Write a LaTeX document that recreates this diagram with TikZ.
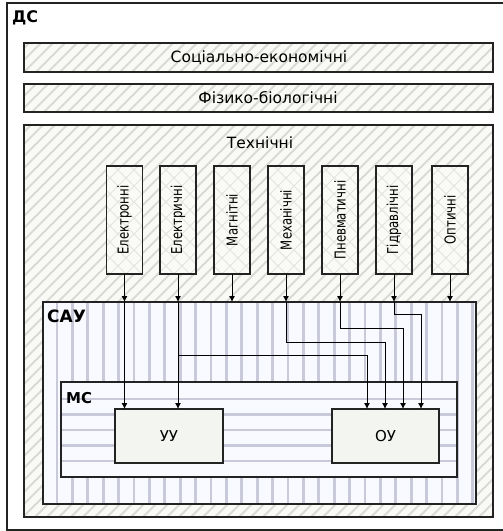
\documentclass[tikz,border=0pt]{standalone}
\usepackage{fontspec}
\setmainfont{DejaVu Sans}
\newfontfamily\vfont{DejaVu Sans}[FakeStretch=0.78]
\usetikzlibrary{arrows.meta}
\definecolor{hatchbg}{RGB}{249,249,245}
\definecolor{hatchln}{RGB}{218,218,214}
\definecolor{crossbg}{RGB}{250,250,247}
\definecolor{crossln}{RGB}{226,226,222}
\definecolor{sauBg}{RGB}{248,250,255}
\definecolor{stripe}{RGB}{200,202,218}
\definecolor{ctrl}{RGB}{243,245,240}
\definecolor{edge}{RGB}{35,35,35}
\tikzset{
  frame/.style={draw=edge, line width=1.3pt},
  box/.style={inner sep=0pt, outer sep=0pt},
  tbox/.style={box, minimum width=36pt, minimum height=108pt, fill=crossbg},
  hatch/.style={draw=hatchln, line width=2pt},
  cross/.style={draw=crossln, line width=1pt},
  vstripe/.style={draw=stripe, line width=2.8pt},
  htext/.style={font=\fontsize{15.5}{15.5}\selectfont, inner sep=0pt},
  vtext/.style={font=\vfont\fontsize{15}{15}\selectfont, rotate=90, inner sep=0pt},
  blabel/.style={font=\bfseries\fontsize{16}{16}\selectfont, inner sep=0pt, anchor=base west},
  arr/.style={-{Latex[length=6pt,width=6pt]}, line width=0.9pt, black},
  conn/.style={line width=0.9pt, black}
}
\newcommand\diaghatch[1]{%
  \begin{scope}
    \clip (#1.south west) rectangle (#1.north east);
    \foreach \i in {-600,-588,...,600} \draw[hatch] (\i,600) -- ++(640,-640);
  \end{scope}}
\newcommand\crosshatch[1]{%
  \begin{scope}
    \clip (#1.south west) rectangle (#1.north east);
    \foreach \i in {-600,-584,...,600} {\draw[cross] (\i,600) -- ++(640,-640);
      \draw[cross] (\i,-20) -- ++(640,640);}
  \end{scope}}
\newcommand\frameit[1]{\draw[frame] (#1.south west) rectangle (#1.north east);}
\begin{document}
\begin{tikzpicture}[x=1pt,y=-1pt]
\useasboundingbox (0,0) rectangle (503,531);
\fill[white] (0,0) rectangle (503,531);
% outer
\node[box, minimum width=503pt, minimum height=527pt] (ds) at (258.5,266.5) {};
\frameit{ds}
\node[blabel] (dsl) at (12,22) {ДС};
% three hatched boxes
\node[box, fill=hatchbg, minimum width=469pt, minimum height=29pt] (soc) at (258.5,57.5) {};
\node[box, fill=hatchbg, minimum width=469pt, minimum height=28pt] (fiz) at (258.5,98) {};
\node[box, fill=hatchbg, minimum width=469pt, minimum height=392pt] (tech) at (258.5,321) {};
\diaghatch{soc}\diaghatch{fiz}\diaghatch{tech}
\frameit{soc}\frameit{fiz}\frameit{tech}
\node[htext] (socl) at (259,57.5) {Соціально-економічні};
\node[htext] (fizl) at (268,98) {Фізико-біологічні};
\node[htext] (techl) at (260,143) {Технічні};
% vertical boxes
\foreach \n/\x in {e1/124.5,e2/178,e3/232,e4/286,e5/340,e6/394,e7/450}{
  \node[tbox] (\n) at (\x,220) {};
  \crosshatch{\n}
  \frameit{\n}
}
\node[vtext] at (e1) {Електронні};
\node[vtext] at (e2) {Електричні};
\node[vtext] at (e3) {Магнітні};
\node[vtext] at (e4) {Механічні};
\node[vtext] at (e5) {Пневматичні};
\node[vtext] at (e6) {Гідравлічні};
\node[vtext] at (e7) {Оптичні};
% SAU
\node[box, fill=sauBg, minimum width=433pt, minimum height=202pt] (sau) at (259.5,403) {};
\begin{scope}
  \clip (sau.south west) rectangle (sau.north east);
  \foreach \x in {57,72.4,...,476} \draw[vstripe] (\x,300) -- (\x,506);
\end{scope}
\frameit{sau}
\node[blabel, font=\bfseries\fontsize{17}{17}\selectfont] (saul) at (47,322) {САУ};
% MS
\node[box, fill=sauBg, minimum width=396pt, minimum height=95pt] (ms) at (259,429.5) {};
\begin{scope}
  \clip (ms.south west) rectangle (ms.north east);
  \foreach \y in {399,414.5,...,470} \draw[vstripe] (60,\y) -- (458,\y);
\end{scope}
\frameit{ms}
\node[blabel, font=\bfseries\fontsize{15}{15}\selectfont] (msl) at (66,403) {МС};
% UU, OU
\node[box, fill=ctrl, draw=edge, line width=1.3pt, minimum width=108pt, minimum height=54pt,
  font=\fontsize{15}{15}\selectfont] (uu) at (169,436) {УУ};
\node[box, fill=ctrl, draw=edge, line width=1.3pt, minimum width=107pt, minimum height=54pt,
  font=\fontsize{15}{15}\selectfont] (ou) at (385.5,436) {ОУ};
% connectors
\foreach \n in {e1,e2,e3,e4,e5,e6,e7}{
  \coordinate (s\n) at (\n.south |- sau.north);
  \draw[arr] (\n.south) -- (s\n);
}
\coordinate (ou1) at (367,409);
\coordinate (ou2) at (385,409);
\coordinate (ou3) at (403,409);
\coordinate (ou4) at (421,409);
\coordinate (j2) at (178,355);
\coordinate (k4) at (385,342);
\coordinate (k5) at (403,328);
\coordinate (k6) at (421,314);
\draw[arr] (se1) -- (se1 |- uu.north);
\draw[arr] (se2) -- (se2 |- uu.north);
\draw[arr] (j2) -| (ou1);
\draw[arr] (se4) |- (k4) -- (ou2);
\draw[arr] (se5) |- (k5) -- (ou3);
\draw[arr] (se6) |- (k6) -- (ou4);
\end{tikzpicture}
\end{document}
